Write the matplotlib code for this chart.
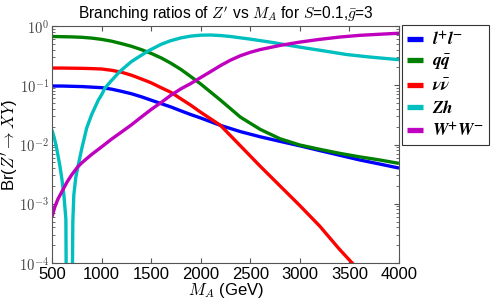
import numpy as np
import matplotlib
matplotlib.use("Agg")
import matplotlib.pyplot as plt
from matplotlib.ticker import FuncFormatter

plt.rcParams['font.family'] = ['Liberation Sans', 'DejaVu Sans']
plt.rcParams['mathtext.fontset'] = 'cm'

# common mass grid (GeV)
mass = [500, 600, 700, 800, 900, 1000, 1100, 1200, 1300, 1400, 1500, 1600, 1700,
        1800, 1900, 2000, 2200, 2400, 2600, 2800, 3000, 3200, 3400, 3600, 3800, 4000]

br_ll = [0.097, 0.097, 0.096, 0.095, 0.093, 0.091, 0.086, 0.079, 0.072, 0.064, 0.056,
         0.049, 0.043, 0.037, 0.032, 0.028, 0.021, 0.0165, 0.0135, 0.0113, 0.0095,
         0.0079, 0.0066, 0.0055, 0.0047, 0.0040]
br_qq = [0.665, 0.66, 0.655, 0.645, 0.625, 0.595, 0.555, 0.505, 0.455, 0.40, 0.345,
         0.29, 0.235, 0.185, 0.14, 0.105, 0.056, 0.029, 0.018, 0.0125, 0.0098,
         0.0083, 0.0071, 0.0062, 0.0055, 0.0048]
br_nn = [0.195, 0.195, 0.194, 0.193, 0.191, 0.188, 0.179, 0.166, 0.148, 0.128, 0.110,
         0.091, 0.076, 0.059, 0.046, 0.035, 0.021, 0.0095, 0.0043, 0.0020, 9.3e-4,
         4.2e-4, 1.7e-4, 7.4e-5, 3.2e-5, 1.3e-5]

mass_ww = [500, 530, 560, 600, 650, 700, 760, 800, 900, 1000, 1100, 1200, 1300, 1400,
           1500, 1600, 1700, 1800, 1900, 2000, 2100, 2200, 2300, 2400, 2500, 2600,
           2800, 3000, 3200, 3400, 3600, 3800, 4000]
br_ww = [6e-4, 9e-4, 1.2e-3, 1.6e-3, 2.3e-3, 3.1e-3, 4.2e-3, 4.9e-3, 6.8e-3, 9.1e-3,
         0.0123, 0.0162, 0.0214, 0.029, 0.039, 0.051, 0.068, 0.087, 0.107, 0.135,
         0.170, 0.215, 0.265, 0.315, 0.36, 0.40, 0.47, 0.535, 0.595, 0.65, 0.695,
         0.725, 0.755]

mass_zh = [500, 520, 540, 560, 580, 600, 620, 640, 646, 702, 710, 720, 740, 765, 800,
           850, 900, 967, 1000, 1035, 1100, 1186, 1300, 1400, 1471, 1600, 1690, 1800,
           1900, 2000, 2100, 2200, 2300, 2500, 2700, 2833, 3000, 3200, 3472, 3700, 4000]
br_zh = [0.0176, 0.0135, 0.0098, 0.0066, 0.0043, 0.0026, 0.0014, 5.5e-4, 1e-5, 1e-5,
         5e-4, 1.4e-3, 2.8e-3, 4.5e-3, 8.5e-3, 0.019, 0.032, 0.056, 0.069, 0.090,
         0.12, 0.172, 0.25, 0.32, 0.38, 0.49, 0.56, 0.63, 0.675, 0.70, 0.705, 0.69,
         0.665, 0.60, 0.535, 0.49, 0.44, 0.39, 0.33, 0.30, 0.27]

labels = [r'$\mathbfit{l}^{\mathbf{+}}\mathbfit{l}^{\mathbf{-}}$',
          r'$\mathbfit{q}\bar{\mathbfit{q}}$',
          r'$\mathbfit{\nu}\bar{\mathbfit{\nu}}$',
          r'$\mathbfit{Zh}$',
          r'$\mathbfit{W}^{\mathbf{+}}\mathbfit{W}^{\mathbf{-}}$']
colors = ['#0000ff', '#008000', '#ff0000', '#00bfbf', '#bf00bf']
yticks = [1e-4, 1e-3, 1e-2, 1e-1, 1e0]

fig = plt.figure(figsize=(4.91, 3.02), dpi=100)
ax = fig.add_axes([52/491, 1-263/302, (399-52)/491, (263-26)/302])

series = [(mass, br_ll), (mass, br_qq), (mass, br_nn), (mass_zh, br_zh), (mass_ww, br_ww)]
for (x, y), c, lab in zip(series, colors, labels):
    ax.plot(x, y, color=c, lw=2.4, label=lab, solid_capstyle='butt')

ax.set_yscale('log')
ax.set_xlim(500, 4000)
ax.set_ylim(1e-4, 1)
ax.set_xticks(np.arange(500, 4001, 500))
ax.set_yticks(yticks)
ax.yaxis.set_major_formatter(FuncFormatter(lambda v, p: r'$10^{%d}$' % int(round(np.log10(v)))))
ax.tick_params(axis='both', which='both', direction='in', top=True, right=True,
               color='#555555')
ax.tick_params(axis='x', labelsize=12, pad=3)
ax.tick_params(axis='y', labelsize=10.5, pad=2, labelcolor='#444444')
for s in ax.spines.values():
    s.set_color('#555555')

ax.set_title(r"Branching ratios of $Z'$ vs $M_A$ for $S$=0.1,$\bar{g}$=3",
             fontsize=11.2, pad=5)
ax.set_xlabel(r'$M_A$ (GeV)', fontsize=12, labelpad=-1)
ax.set_ylabel(r"Br($Z' \to XY$)", fontsize=12)
ax.yaxis.set_label_coords(-31/347, 0.5)

leg = ax.legend(loc='upper left', bbox_to_anchor=(1.008, 1.005), fontsize=12.5,
                frameon=True, fancybox=False, edgecolor='black', handlelength=0.9,
                handletextpad=0.55, borderaxespad=0, labelspacing=0.3,
                borderpad=0.3)
for h in leg.get_lines():
    h.set_linewidth(3.8)
for t in leg.get_texts():
    t.set_math_fontfamily('stix')
leg.get_frame().set_linewidth(0.8)

fig.savefig('out.png', dpi=100)
